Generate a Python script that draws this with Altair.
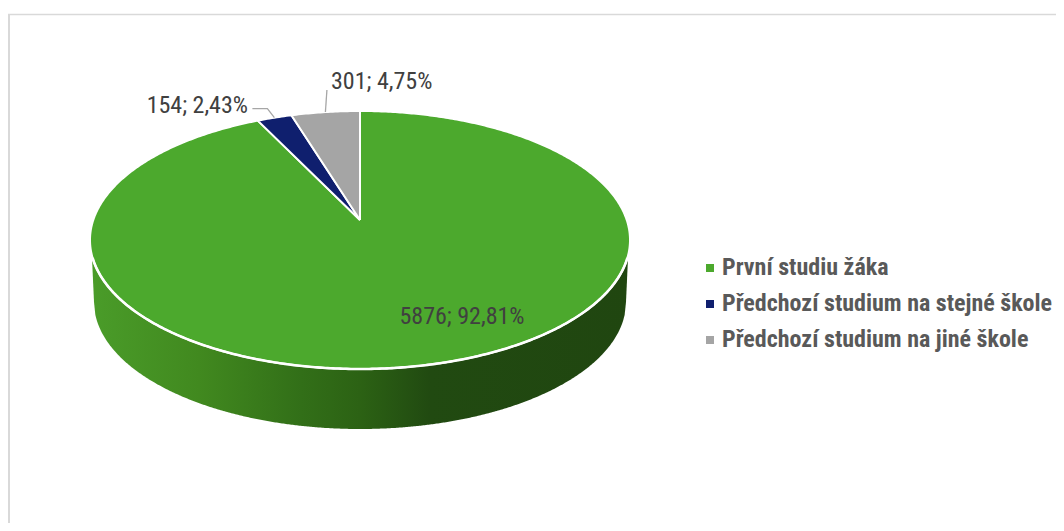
import numpy as np
import pandas as pd
import altair as alt

# --- chart values
names = ["První studiu žáka", "Předchozí studium na stejné škole", "Předchozí studium na jiné škole"]
counts = [5876, 154, 301]
labels = ["5876; 92,81%", "154; 2,43%", "301; 4,75%"]
colors = ["#4CA92D", "#0F1F6E", "#A5A5A5"]

FONT = "Roboto Condensed"

# --- view geometry (page pixels)
W, H = 1048, 515
CX, CY, RX, RY = 360, 240, 270, 129
APEX_Y = 220
FORESHORTEN = 0.86          # rim angle shrinks near the far edge of the tilted pie
BX, BY, BRX, BRY = 360, 302, 266, 127
xs = alt.X("x:Q", axis=None, scale=alt.Scale(domain=[8, 8 + W], range=[0, W]))
ys = alt.Y("y:Q", axis=None, scale=alt.Scale(domain=[8, 8 + H], range=[0, H]))


def rim(t):
    """rim point for angle t, measured counter-clockwise from the top"""
    r = np.radians(t)
    return CX - RX * np.sin(r), CY - RY * np.cos(r)


total = sum(counts)
deg = {n: c / total * 360 for n, c in zip(names, counts)}
grey_end = deg[names[2]] * FORESHORTEN
blue_end = (deg[names[2]] + deg[names[1]]) * FORESHORTEN
spans = {names[0]: (blue_end, 360.0), names[1]: (grey_end, blue_end), names[2]: (0.0, grey_end)}

rows = []
for name in names:
    a, b = spans[name]
    ts = np.linspace(a, b, max(int((b - a) * 2), 8))
    pts = [(CX, APEX_Y)] + [rim(t) for t in ts] + [(CX, APEX_Y)]
    for i, (px, py) in enumerate(pts):
        rows.append({"name": name, "i": i, "x": px, "y": py})
wedge_df = pd.DataFrame(rows)

wall_x = np.concatenate([[92], np.linspace(BX - BRX, BX + BRX, 400), [628]])
d = np.clip((wall_x - BX) / BRX, -1, 1)
wall_y = BY + BRY * np.sqrt(1 - d ** 2)
wall_y[0] = wall_y[-1] = 258
wall_df = pd.DataFrame({"x": wall_x, "y": wall_y, "y2": 258.0})

# white lip along the front of the top face
front_t = np.linspace(98, 262, 300)
front_df = pd.DataFrame({"i": range(len(front_t)),
                         "x": [rim(t)[0] for t in front_t],
                         "y": [rim(t)[1] for t in front_t]})

stops = [(0.0, "#4A9C29"), (0.2, "#41891F"), (0.39, "#326F18"), (0.5, "#2C6214"),
         (0.63, "#214A11"), (1.0, "#204610")]
gradient = alt.LinearGradient(gradient="linear", x1=0, x2=1, y1=0, y2=0,
                              stops=[alt.GradientStop(offset=o, color=c) for o, c in stops])

wall = alt.Chart(wall_df).mark_area(color=gradient, interpolate="linear").encode(
    x=xs, y=ys, y2=alt.Y2("y2:Q"))

wedges = alt.Chart(wedge_df).mark_line(filled=True, stroke="white", strokeWidth=2, strokeJoin="round").encode(
    x=xs, y=ys, order="i:Q", detail="name:N",
    color=alt.Color("name:N", sort=names,
                    scale=alt.Scale(domain=names, range=colors),
                    legend=alt.Legend(title=None, orient="none", legendX=690, legendY=248,
                                      symbolType="square", symbolSize=64, symbolStrokeWidth=0,
                                      labelFont=FONT, labelFontSize=24,
                                      labelFontWeight="bold", labelColor="#595959",
                                      labelOffset=0, rowPadding=12, labelLimit=400)))

lip = alt.Chart(front_df).mark_line(color="white", strokeWidth=2.6).encode(x=xs, y=ys, order="i:Q")

# leader lines start on the rim at each small wedge's mid-angle
gx, gy = rim((grey_end) / 2)
bx, by = rim((grey_end + blue_end) / 2)
leader_df = pd.DataFrame({
    "k": ["g", "g", "b", "b", "b"], "i": [0, 1, 0, 1, 2],
    "x": [gx, gx + 1.5, bx, bx - 7, bx - 22],
    "y": [gy, gy - 22, by, by - 9, by - 9],
})
leaders = alt.Chart(leader_df).mark_line(color="#A6A6A6", strokeWidth=1.3).encode(
    x=xs, y=ys, order="i:Q", detail="k:N")


def text(label, x, y, align):
    return alt.Chart(pd.DataFrame({"t": [label]})).mark_text(
        font=FONT, fontSize=24, color="#404040", align=align, baseline="middle"
    ).encode(x=alt.value(x - 8), y=alt.value(y - 8), text="t:N")


frame_left = alt.Chart(pd.DataFrame({"a": [0]})).mark_rule(color="#D9D9D9", strokeWidth=2).encode(
    x=alt.value(1), y=alt.value(6), y2=alt.value(H))
frame_top = alt.Chart(pd.DataFrame({"a": [0]})).mark_rule(color="#D9D9D9", strokeWidth=1.5).encode(
    y=alt.value(6.5), x=alt.value(0), x2=alt.value(W))

chart = alt.layer(
    frame_left, frame_top, wall, wedges, lip, leaders,
    text(labels[0], 462, 317, "center"),
    text(labels[1], 248, 106, "right"),
    text(labels[2], 331, 82, "left"),
).properties(
    width=W, height=H, padding=0, autosize=alt.AutoSizeParams(type="none"), background="white"
).configure_view(stroke=None)

chart.save("out.html", embed_options={"renderer": "svg", "actions": False})
